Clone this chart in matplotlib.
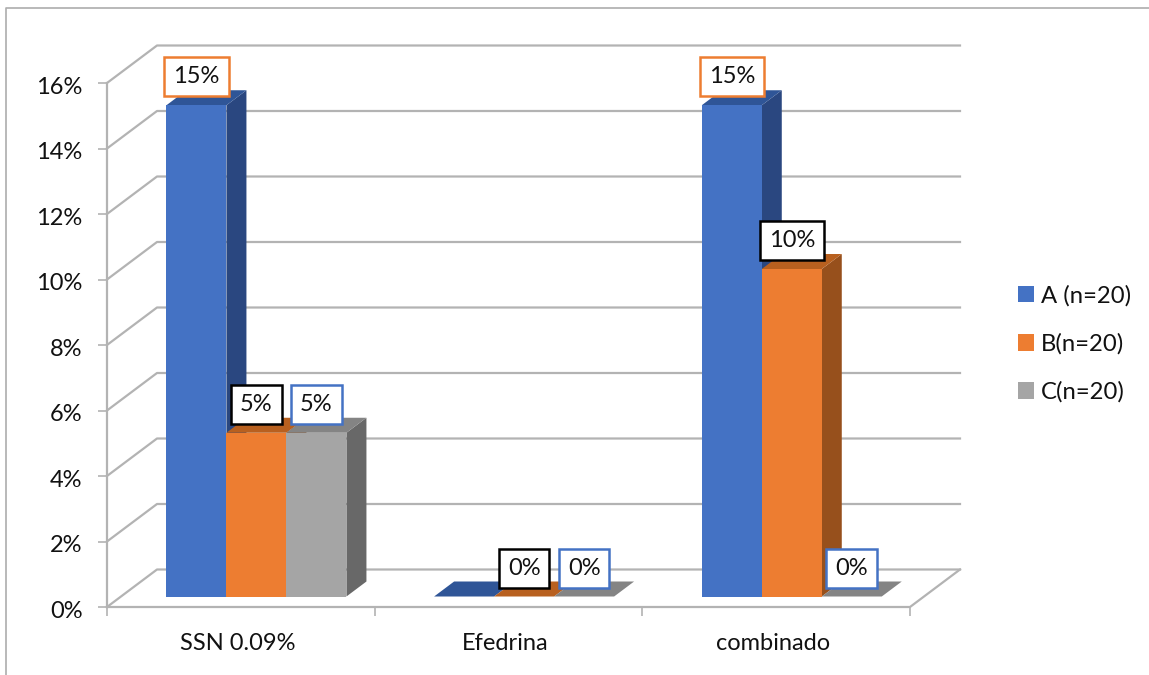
import matplotlib
matplotlib.use("Agg")
import matplotlib.pyplot as plt
from matplotlib.lines import Line2D
from matplotlib.patches import Patch, Polygon
from matplotlib.transforms import ScaledTranslation

plt.rcParams['font.family'] = ['Lato', 'DejaVu Sans']

categories = ['SSN 0.09%', 'Efedrina', 'combinado']
series_names = ['A (n=20)', 'B(n=20)', 'C(n=20)']
values_a = [15, 0, 15]
values_b = [5, 0, 10]
values_c = [5, 0, 0]
# the A label of the Efedrina group is not shown
show_a = [True, False, True]
show_b = [True, True, True]
show_c = [True, True, True]
y_ticks = [0, 2, 4, 6, 8, 10, 12, 14, 16]

front = ['#4472C4', '#ED7D31', '#A5A5A5']
top = ['#2F5597', '#B8601F', '#848484']
side = ['#2A4780', '#97501C', '#686868']
label_edges = ['#ED7D31', '#000000', '#4472C4']
grid_color = '#B3B3B3'

W, H = 1149, 675
fig = plt.figure(figsize=(W / 100, H / 100), dpi=100)
ax = fig.add_axes([107 / W, 1 - 607 / H, 803 / W, 524 / H])
ax.set_xlim(-0.5, 2.5)
ax.set_ylim(0, 16)
for s in ax.spines.values():
    s.set_visible(False)

# full floor depth in data units (50 px across, 37.5 px up)
depth_x = 50 / (803 / 3)
depth_y = 37.5 / (524 / 16)
bar_w = 60 / (803 / 3)
bar_front = 0.28
bar_back = 0.68
bar_shift = 0.006


def proj(x, y, d):
    return x + d * depth_x, y + d * depth_y


# walls and floor
for v in y_ticks:
    x0, y0 = proj(-0.5, v, 0)
    x1, y1 = proj(-0.5, v, 1)
    x2, y2 = proj(2.5, v, 1)
    ax.plot([x0, x1, x2], [y0, y1, y2], color=grid_color, lw=1.6, zorder=1, clip_on=False)
ax.plot([-0.5, -0.5], [0, 16], color=grid_color, lw=1.6, zorder=1, clip_on=False)
x1, y1 = proj(2.5, 0, 1)
ax.plot([-0.5, 2.5, x1], [0, 0, y1], color=grid_color, lw=1.6, zorder=1, clip_on=False)

# 3d bars, left to right so later bars sit over earlier side faces
all_values = [values_a, values_b, values_c]
all_show = [show_a, show_b, show_c]
for c in range(len(categories)):
    for i, vals in enumerate(all_values):
        v = vals[c]
        left = c + bar_shift + (i - 1.5) * bar_w
        right = left + bar_w
        z = 3 + c * 3 + i
        if v > 0:
            ax.bar(left + bar_front * depth_x, v, bar_w, bottom=bar_front * depth_y, align='edge',
                   color=front[i], zorder=z + 0.5, clip_on=False)
            ax.add_patch(Polygon([proj(right, 0, bar_front), proj(right, 0, bar_back),
                                  proj(right, v, bar_back), proj(right, v, bar_front)],
                                 facecolor=side[i], edgecolor='none', zorder=z, clip_on=False))
        ax.add_patch(Polygon([proj(left, v, bar_front), proj(right, v, bar_front),
                              proj(right, v, bar_back), proj(left, v, bar_back)],
                             facecolor=top[i], edgecolor='none', zorder=z, clip_on=False))
        if all_show[i][c]:
            lx, ly = proj(left + bar_w / 2, v, bar_front)
            ax.annotate(f'{v}%', (lx, ly), xytext=(0, 20.5), textcoords='offset points',
                        ha='center', va='center', fontsize=17, color='#111111', zorder=30,
                        annotation_clip=False,
                        bbox=dict(boxstyle='square,pad=0.38', facecolor='white',
                                  edgecolor=label_edges[i], linewidth=1.8))

# axis ticks and labels
ax.set_yticks(y_ticks)
ax.set_yticklabels([f'{v}%' for v in y_ticks])
ax.set_xticks([-0.5, 0.5, 1.5, 2.5])
ax.set_xticklabels([])
ax.set_xticks([0, 1, 2], minor=True)
ax.set_xticklabels(categories, minor=True)
ax.tick_params(axis='y', length=6.5, width=1.2, color=grid_color, pad=11, labelsize=17,
               labelcolor='#111111')
ax.tick_params(axis='x', which='major', length=6.5, width=1.2, color=grid_color)
ax.tick_params(axis='x', which='minor', length=0, pad=18, labelsize=17, labelcolor='#111111')

# small nudges of the tick labels, in points
for lab in ax.get_yticklabels():
    lab.set_transform(lab.get_transform() + ScaledTranslation(0, -1.5 / 72, fig.dpi_scale_trans))
for lab in ax.get_xticklabels(minor=True):
    lab.set_transform(lab.get_transform() + ScaledTranslation(-2.5 / 72, -0.7 / 72, fig.dpi_scale_trans))

# legend on the right
handles = [Patch(facecolor=front[i], edgecolor='none') for i in range(3)]
fig.legend(handles, series_names, loc='center left', bbox_to_anchor=(996 / W, 1 - 344 / H),
           frameon=False, fontsize=17.2, handlelength=0.68, handleheight=0.68,
           handletextpad=0.3, labelspacing=1.12, labelcolor='#111111')

# thin frame along the top and left of the figure
fig.add_artist(Line2D([6 / W, 6 / W, 1], [0, 1 - 8 / H, 1 - 8 / H],
                      transform=fig.transFigure, color='#ADADAD', lw=1.2))

fig.savefig('out.png', dpi=100)
